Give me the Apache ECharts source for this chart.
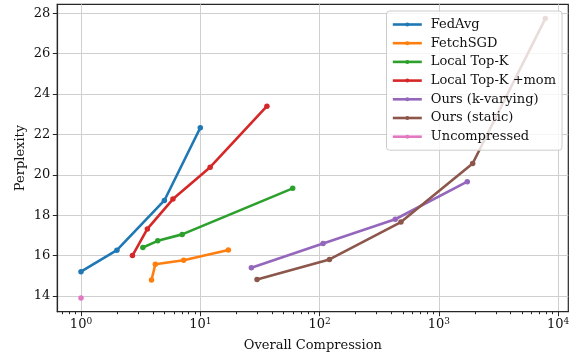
<!DOCTYPE html>
<html><head><meta charset="utf-8">
<script src="https://cdn.jsdelivr.net/npm/echarts@6/dist/echarts.min.js"></script>
<style>html,body{margin:0;padding:0;background:#fff}#c{width:578px;height:359px}</style>
</head><body><div id="c"></div>
<script>
const seriesNames = ['FedAvg','FetchSGD','Local Top-K','Local Top-K +mom','Ours (k-varying)','Ours (static)','Uncompressed'];
const fedavgX = [1, 2, 5, 10];
const fedavgY = [15.2, 16.27, 18.73, 22.33];
const fetchsgdX = [3.9, 4.2, 7.25, 17.2];
const fetchsgdY = [14.79, 15.57, 15.77, 16.28];
const localTopkX = [3.3, 4.4, 7.05, 59.5];
const localTopkY = [16.4, 16.73, 17.05, 19.33];
const localMomX = [2.7, 3.6, 5.9, 12.1, 36.2];
const localMomY = [16.0, 17.32, 18.8, 20.38, 23.4];
const oursKX = [26.8, 107, 431, 1730];
const oursKY = [15.4, 16.6, 17.8, 19.66];
const oursStaticX = [29.9, 121, 481, 1920, 7800];
const oursStaticY = [14.82, 15.81, 17.66, 20.56, 27.74];
const uncompressedX = [1];
const uncompressedY = [13.9];
const xMajorTicks = [1, 10, 100, 1000, 10000];
const xMinorTicks = [0.7,0.8,0.9,2,3,4,5,6,7,8,9,20,30,40,50,60,70,80,90,200,300,400,500,600,700,800,900,2000,3000,4000,5000,6000,7000,8000,9000];
const yTicks = [14, 16, 18, 20, 22, 24, 26, 28];
const colors = ['#1f77b4','#ff7f0e','#2ca02c','#d62728','#9467bd','#8c564b','#e377c2'];

const xs = [fedavgX, fetchsgdX, localTopkX, localMomX, oursKX, oursStaticX, uncompressedX];
const ys = [fedavgY, fetchsgdY, localTopkY, localMomY, oursKY, oursStaticY, uncompressedY];
const FONT = 'DejaVu Serif';

const chart = echarts.init(document.getElementById('c'), null, {renderer:'canvas'});
const series = seriesNames.map((n, i) => ({
  name: n, type: 'line', xAxisIndex: 0, yAxisIndex: 0,
  data: xs[i].map((x, j) => [x, ys[i][j]]),
  symbol: 'circle', symbolSize: 5.5, showSymbol: true,
  lineStyle: {width: 2.6, color: colors[i]},
  itemStyle: {color: colors[i]},
  emphasis: {disabled: true}
}));
chart.setOption({
  animation: false,
  color: colors,
  grid: {left: 57.3, right: 9.7, top: 4.3, bottom: 47.3, show: true, borderColor: '#262626', borderWidth: 1.2, backgroundColor: 'transparent'},
  xAxis: [{
    type: 'log', logBase: 10, min: 0.633, max: 12160,
    name: 'Overall Compression', nameLocation: 'middle', nameGap: 27,
    nameTextStyle: {fontFamily: FONT, fontSize: 13, color: '#111'},
    axisLine: {show: true, lineStyle: {color: '#262626', width: 1.2}},
    axisTick: {show: true, length: 4.5, customValues: xMajorTicks, lineStyle: {color: '#262626'}},
    splitLine: {show: true, lineStyle: {color: '#cfcfcf', width: 1}},
    axisLabel: {
      customValues: xMajorTicks, margin: 5, color: '#111',
      formatter: v => '{b|10}{s|' + Math.round(Math.log10(v)) + '}',
      rich: {
        b: {fontFamily: FONT, fontSize: 13, color: '#111', lineHeight: 15},
        s: {fontFamily: FONT, fontSize: 9, color: '#111', verticalAlign: 'top', lineHeight: 15, padding: [0,0,6,0]}
      }
    }
  }, {
    type: 'log', logBase: 10, min: 0.633, max: 12160, position: 'bottom',
    axisLine: {show: false},
    axisTick: {show: true, length: 2.5, customValues: xMinorTicks, lineStyle: {color: '#262626'}},
    axisLabel: {show: false}, splitLine: {show: false}
  }],
  yAxis: {
    type: 'value', min: 13.22, max: 28.447,
    name: 'Perplexity', nameLocation: 'middle', nameGap: 30, nameMoveOverlap: false,
    nameTextStyle: {fontFamily: FONT, fontSize: 13, color: '#111'},
    axisLine: {show: true, lineStyle: {color: '#262626', width: 1.2}},
    axisTick: {show: true, length: 4.5, customValues: yTicks, lineStyle: {color: '#262626'}},
    splitLine: {show: true, lineStyle: {color: '#cfcfcf', width: 1}},
    axisLabel: {customValues: yTicks, margin: 7, fontFamily: FONT, fontSize: 13, color: '#111'}
  },
  legend: {
    show: true, orient: 'vertical', right: 16, top: 11,
    data: seriesNames,
    itemWidth: 29, itemHeight: 5, itemGap: 5.7,
    padding: [7, 6, 7, 5],
    backgroundColor: 'rgba(255,255,255,0.8)', borderColor: '#cccccc', borderWidth: 1, borderRadius: 3,
    lineStyle: {width: 2.6},
    textStyle: {fontFamily: FONT, fontSize: 13, color: '#111', padding: [0,0,0,4]},
    selectedMode: false
  },
  series: series
});
</script></body></html>
